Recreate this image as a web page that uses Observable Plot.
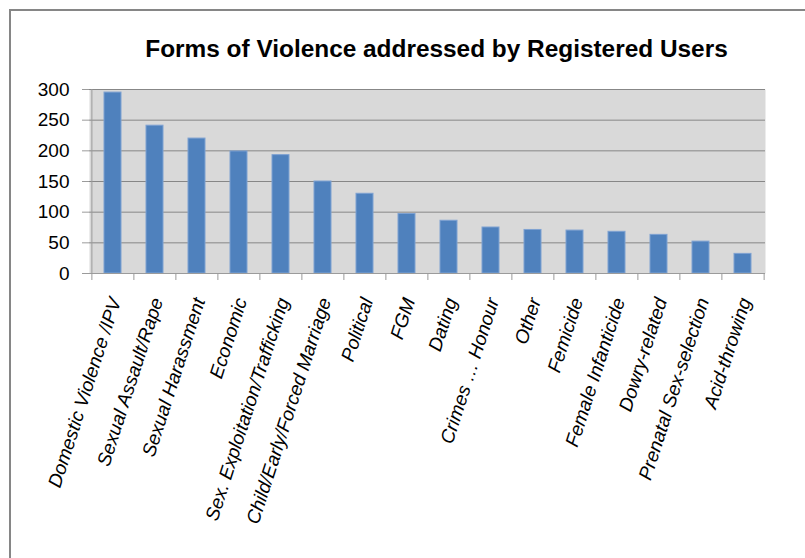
<!DOCTYPE html>
<html><head><meta charset="utf-8">
<script src="https://cdn.jsdelivr.net/npm/d3@7"></script>
<script src="https://cdn.jsdelivr.net/npm/@observablehq/plot@0.6"></script>
<style>
html,body{margin:0;padding:0;background:#fff;width:805px;height:558px;overflow:hidden;}
#wrap{position:relative;width:805px;height:558px;}
#border{position:absolute;left:9px;top:9px;width:820px;height:580px;border-left:2px solid #868686;border-top:2px solid #868686;}
#title{position:absolute;left:0;top:37px;width:873px;text-align:center;font:bold 24.4px "Liberation Sans",Arial,sans-serif;color:#000;line-height:1;}
#chart{position:absolute;left:0;top:0;}
</style></head>
<body><div id="wrap"><div id="border"></div><div id="chart"></div><div id="title">Forms of Violence addressed by Registered Users</div></div>
<script>
const categories = ["Domestic Violence /IPV","Sexual Assault/Rape","Sexual Harassment","Economic","Sex. Exploitation/Trafficking","Child/Early/Forced Marriage","Political","FGM","Dating","Crimes … Honour","Other","Femicide","Female Infanticide","Dowry-related","Prenatal Sex-selection","Acid-throwing"];
const values = [295, 241, 220, 199, 193, 150, 130, 97, 86, 75, 71, 70, 68, 63, 52, 32];
const yTicks = [0, 50, 100, 150, 200, 250, 300];

const data = categories.map((c, i) => ({category: c, value: values[i]}));
const firstCat = categories[0];
const lastCat = categories[categories.length - 1];
const half = 676 / categories.length / 2;

const chart = Plot.plot({
  width: 805, height: 558,
  marginLeft: 89, marginRight: 40, marginTop: 89, marginBottom: 285,
  style: {fontFamily: '"Liberation Sans", Arial, sans-serif', background: "transparent", overflow: "visible", color: "#000"},
  x: {domain: categories, paddingInner: 0.6, paddingOuter: 0.3, axis: null},
  y: {domain: [0, 300], axis: null},
  marks: [
    Plot.frame({fill: "#d9d9d9", stroke: null}),
    Plot.ruleY(yTicks.slice(1), {stroke: "#878787", strokeWidth: 1}),
    Plot.barY(data, {x: "category", y: "value", fill: "#4f81bd", stroke: "#7fa2d2", strokeWidth: 1}),
    Plot.ruleY([0], {stroke: "#9b9b9b"}),
    Plot.ruleX([firstCat], {dx: -half, insetBottom: -7, stroke: "#9b9b9b"}),
    Plot.ruleX(categories.slice(1), {dx: -half, insetTop: 184, insetBottom: -7, stroke: "#9b9b9b"}),
    Plot.ruleX([lastCat], {dx: half, insetTop: 184, insetBottom: -7, stroke: "#9b9b9b"}),
    Plot.axisY({ticks: yTicks, tickSize: 7, tickPadding: 13, fontSize: 19, stroke: "#9b9b9b", fill: "#000", label: null}),
    Plot.axisX({tickSize: 0, tickRotate: -72, tickPadding: 25, fontSize: 19, fontStyle: "italic", dx: 2.5, fill: "#000", label: null})
  ]
});
document.getElementById("chart").appendChild(chart);
</script>
</body></html>
